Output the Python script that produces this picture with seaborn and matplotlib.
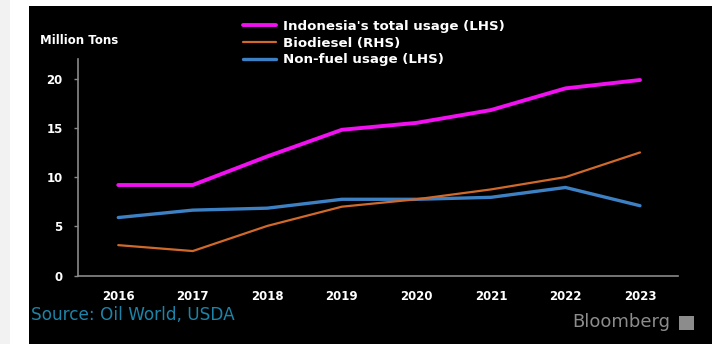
import matplotlib
matplotlib.use("Agg")
import matplotlib.pyplot as plt
import seaborn as sns
import pandas as pd
from matplotlib.patches import Rectangle
from matplotlib.lines import Line2D

years = [2016, 2017, 2018, 2019, 2020, 2021, 2022, 2023]
total_usage = [9.2, 9.2, 12.1, 14.8, 15.5, 16.8, 19.0, 19.85]
biodiesel = [3.1, 2.5, 5.05, 7.0, 7.75, 8.75, 10.0, 12.5]
non_fuel = [5.9, 6.65, 6.85, 7.75, 7.75, 7.95, 8.95, 7.1]
y_ticks = [0, 5, 10, 15, 20]
labels = ["Indonesia's total usage (LHS)", "Biodiesel (RHS)", "Non-fuel usage (LHS)"]
colors = ["#f010f0", "#d0692a", "#3d80c4"]

sns.set_theme(style="dark")
plt.rcParams['font.family'] = ['DejaVu Sans']

fig = plt.figure(figsize=(7.16, 3.44), dpi=100, facecolor="white")
W, H = 716, 344
fig.patches.append(Rectangle((0, 0), 10 / W, 1, transform=fig.transFigure,
                             facecolor="#f2f2f2", edgecolor="none", zorder=-10))
fig.patches.append(Rectangle((29 / W, 0), (712 - 29) / W, (344 - 6) / H,
                             transform=fig.transFigure, facecolor="black",
                             edgecolor="none", zorder=-10))

ax = fig.add_axes([78 / W, 68.3 / H, 600 / W, 216.9 / H])
ax.set_facecolor("none")
df = pd.DataFrame({"year": years, "total": total_usage, "bio": biodiesel, "nonfuel": non_fuel})

sns.lineplot(data=df, x="year", y="total", ax=ax, color=colors[0], linewidth=2.8)
sns.lineplot(data=df, x="year", y="nonfuel", ax=ax, color=colors[2], linewidth=2.4)
ax.set_xlim(2015.46, 2023.51)
ax.set_ylim(0, 22)

ax2 = ax.twinx()
sns.lineplot(data=df, x="year", y="bio", ax=ax2, color=colors[1], linewidth=1.6)
ax2.set_ylim(0, 22)
ax2.set_xlim(2015.46, 2023.51)
ax2.axis("off")

ax.set_xticks(years)
ax.set_xticklabels([str(y) for y in years])
ax.set_yticks(y_ticks)
ax.set_yticklabels([str(t) for t in y_ticks])
ax.set_xlabel("")
ax.set_ylabel("")
ax.grid(False)
for s in ["top", "right"]:
    ax.spines[s].set_visible(False)
for s in ["left", "bottom"]:
    ax.spines[s].set_visible(True)
    ax.spines[s].set_color("#8a8a8a")
    ax.spines[s].set_linewidth(1.2)
ax.tick_params(axis="y", colors="#8a8a8a", length=3, width=1, labelcolor="white",
               labelsize=8.5, pad=8, left=True)
ax.tick_params(axis="x", length=0, labelcolor="white", labelsize=8.5, pad=10)
for lab in ax.get_xticklabels() + ax.get_yticklabels():
    lab.set_fontweight("bold")

handles = [Line2D([], [], color=c, linewidth=lw) for c, lw in zip(colors, [2.8, 1.6, 2.4])]
fig.legend(handles, labels, loc="upper left", bbox_to_anchor=(243 / W, 1 - 20 / H),
           frameon=False, labelcolor="white", prop={"weight": "bold", "size": 9.6},
           handlelength=2.45, handletextpad=0.55, labelspacing=0.28, borderaxespad=0,
           borderpad=0)

fig.text(40 / W, 1 - 40 / H, "Million Tons", color="white", fontsize=8.5,
         fontweight="bold", va="center", ha="left")
fig.text(31 / W, 1 - 315 / H, "Source: Oil World, USDA", color="#1c84a8",
         fontsize=12.2, va="center", ha="left")
fig.text(572 / W, 1 - 322 / H, "Bloomberg", color="#8c8c8c", fontsize=13,
         va="center", ha="left")
fig.patches.append(Rectangle((679 / W, 14 / H), 15 / W, 14 / H,
                             transform=fig.transFigure, facecolor="#8c8c8c",
                             edgecolor="none", zorder=1))

fig.savefig("out.png", dpi=100, facecolor=fig.get_facecolor())
